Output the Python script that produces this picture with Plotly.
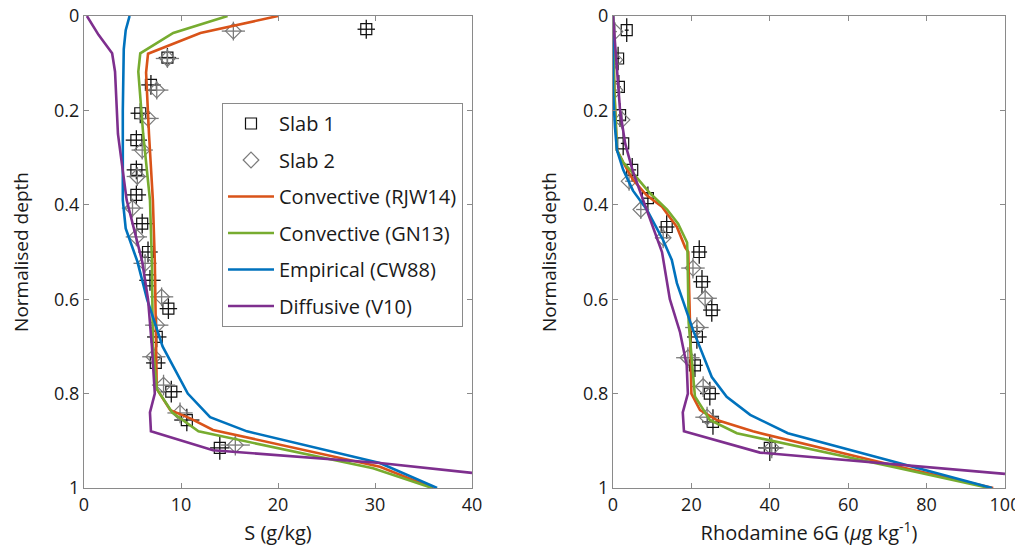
import plotly.graph_objects as go

# ---------------- Left panel: salinity S (g/kg) ----------------
s_rjw_x = [20, 12, 6.6, 6.4, 6.7, 7.1, 7.3, 7.4, 7.5, 8.9, 10.9, 13.3, 30.5, 36]
s_rjw_y = [0, 0.036, 0.08, 0.12, 0.25, 0.39, 0.52, 0.7, 0.79, 0.835, 0.852, 0.877, 0.955, 1.0]
s_gn_x = [14.8, 9.2, 5.8, 5.6, 6.1, 6.8, 7.0, 7.1, 7.5, 9.1, 11.8, 29.8, 35.9]
s_gn_y = [0, 0.036, 0.079, 0.118, 0.25, 0.39, 0.52, 0.7, 0.79, 0.84, 0.88, 0.958, 1.0]
s_cw_x = [4.7, 4.3, 4.1, 4.0, 4.0, 4.3, 5.5, 6.5, 8.1, 9.4, 10.7, 13.0, 16.8, 30.5, 36.4]
s_cw_y = [0, 0.03, 0.07, 0.2, 0.39, 0.45, 0.52, 0.6, 0.7, 0.75, 0.8, 0.85, 0.88, 0.947, 1.0]
s_v_x = [0.3, 1.5, 2.9, 3.2, 3.5, 4.4, 6.0, 6.6, 7.0, 7.3, 6.8, 6.9, 13.3, 30.5, 40]
s_v_y = [0, 0.04, 0.079, 0.118, 0.25, 0.39, 0.52, 0.6, 0.7, 0.8, 0.84, 0.88, 0.92, 0.947, 0.968]

s_slab1_x = [29.1, 8.6, 6.9, 5.8, 5.4, 5.4, 5.4, 6.0, 6.6, 6.8, 8.7, 7.5, 7.4, 9.0, 10.6, 14.0]
s_slab1_y = [0.028, 0.088, 0.146, 0.206, 0.263, 0.326, 0.379, 0.44, 0.50, 0.56, 0.62, 0.68, 0.735, 0.796, 0.856, 0.915]
s_slab1_ex = [0.9, 0.9, 1.0, 1.0, 1.1, 1.0, 1.0, 1.1, 1.0, 1.1, 0.9, 1.0, 1.0, 1.1, 1.3, 1.0]
s_slab1_ey = [0.02, 0.02, 0.021, 0.021, 0.021, 0.02, 0.02, 0.021, 0.022, 0.022, 0.022, 0.022, 0.022, 0.023, 0.024, 0.025]

s_slab2_x = [15.4, 8.6, 7.5, 6.6, 6.0, 5.5, 5.0, 5.4, 6.3, 8.0, 7.5, 7.2, 8.2, 9.9, 15.6]
s_slab2_y = [0.032, 0.09, 0.157, 0.217, 0.284, 0.34, 0.407, 0.468, 0.524, 0.595, 0.655, 0.722, 0.782, 0.841, 0.909]
s_slab2_ex = [1.2, 1.2, 1.2, 1.1, 1.1, 1.1, 1.1, 1.1, 1.2, 1.2, 1.2, 1.2, 1.2, 1.3, 1.5]
s_slab2_ey = [0.02, 0.02, 0.02, 0.02, 0.02, 0.02, 0.02, 0.02, 0.02, 0.02, 0.02, 0.02, 0.022, 0.022, 0.022]

# ---------------- Right panel: Rhodamine 6G ----------------
r_rjw_x = [0, 0.3, 1.0, 2.6, 5.1, 8.6, 12.5, 16.3, 18.4, 19.2, 19.6, 20.0, 22.2, 26.5, 35.7, 73, 97]
r_rjw_y = [0, 0.15, 0.284, 0.31, 0.347, 0.38, 0.404, 0.447, 0.49, 0.5, 0.637, 0.8, 0.835, 0.856, 0.88, 0.955, 1.0]
r_gn_x = [0, 0.3, 1.0, 2.6, 5.1, 9.4, 13.8, 16.6, 18.9, 19.0, 19.3, 20.9, 24.7, 31.6, 73, 96]
r_gn_y = [0, 0.15, 0.284, 0.31, 0.333, 0.375, 0.41, 0.44, 0.48, 0.5, 0.65, 0.806, 0.856, 0.884, 0.958, 1.0]
r_cw_x = [0, 0.0, 0.5, 1.0, 2.6, 5.1, 8.6, 12.8, 15.0, 16.3, 20.4, 25.2, 29.0, 35.0, 44.6, 73, 96.7]
r_cw_y = [0, 0.157, 0.235, 0.284, 0.326, 0.37, 0.41, 0.475, 0.517, 0.566, 0.665, 0.765, 0.807, 0.845, 0.884, 0.947, 1.0]
r_v_x = [0, 1.0, 1.8, 3.1, 5.1, 7.7, 10.2, 12.5, 14.5, 17.1, 18.8, 19.1, 17.8, 18.1, 37.5, 73, 100]
r_v_y = [0, 0.107, 0.2, 0.27, 0.33, 0.39, 0.447, 0.5, 0.6, 0.67, 0.74, 0.8, 0.84, 0.88, 0.925, 0.95, 0.97]

r_slab1_x = [3.5, 1.3, 1.5, 1.8, 2.6, 4.9, 8.9, 13.7, 22.0, 22.7, 25.2, 21.4, 20.9, 24.7, 25.5, 40.0]
r_slab1_y = [0.03, 0.09, 0.15, 0.21, 0.27, 0.326, 0.386, 0.447, 0.50, 0.563, 0.623, 0.68, 0.74, 0.80, 0.86, 0.915]
r_slab1_ex = [0.5, 0.4, 0.5, 0.5, 0.6, 1.0, 1.5, 2.0, 2.0, 2.2, 2.2, 2.5, 2.0, 2.5, 2.8, 3.0]
r_slab1_ey = [0.025, 0.025, 0.025, 0.025, 0.025, 0.025, 0.025, 0.025, 0.025, 0.025, 0.025, 0.025, 0.025, 0.025, 0.027, 0.028]

r_slab2_x = [0.5, 0.5, 0.5, 2.3, 4.1, 7.1, 12.8, 20.4, 23.5, 21.4, 19.1, 23.0, 24.0, 40.5]
r_slab2_y = [0.033, 0.093, 0.157, 0.22, 0.35, 0.41, 0.47, 0.534, 0.598, 0.66, 0.724, 0.785, 0.85, 0.915]
r_slab2_ex = [0.5, 0.5, 0.5, 0.8, 1.0, 1.2, 2.0, 3.0, 3.0, 3.0, 3.0, 3.0, 3.0, 3.0]
r_slab2_ey = [0.02, 0.02, 0.02, 0.02, 0.02, 0.02, 0.022, 0.022, 0.022, 0.022, 0.022, 0.022, 0.022, 0.022]

series_names = ["Slab 1", "Slab 2", "Convective (RJW14)", "Convective (GN13)",
                "Empirical (CW88)", "Diffusive (V10)"]
line_colors = ["#D95319", "#77AC30", "#0072BD", "#7E2F8E"]

x_ticks_left = [0, 10, 20, 30, 40]
x_ticks_right = [0, 20, 40, 60, 80, 100]
y_ticks = [0, 0.2, 0.4, 0.6, 0.8, 1]
y_tick_text = ["0", "0.2", "0.4", "0.6", "0.8", "1"]

FONT = "Open Sans"
TXT = "#1a1a1a"
fig = go.Figure()

def add_panel(xa, ya, slab1, slab2, lines, show):
    sx, sy, sex, sey = slab1
    fig.add_trace(go.Scatter(
        x=sx, y=sy, mode="markers", name=series_names[0], legendgroup="g0",
        showlegend=show, xaxis=xa, yaxis=ya,
        marker=dict(symbol="square-open", size=11, color="#111111", line=dict(width=1.2)),
        error_x=dict(type="data", array=sex, color="#111111", thickness=1.3, width=0),
        error_y=dict(type="data", array=sey, color="#111111", thickness=1.3, width=0),
    ))
    dx, dy, dex, dey = slab2
    fig.add_trace(go.Scatter(
        x=dx, y=dy, mode="markers", name=series_names[1], legendgroup="g1",
        showlegend=show, xaxis=xa, yaxis=ya,
        marker=dict(symbol="diamond-open", size=12, color="#7a7a7a", line=dict(width=1.2)),
        error_x=dict(type="data", array=dex, color="#7a7a7a", thickness=1.3, width=0),
        error_y=dict(type="data", array=dey, color="#7a7a7a", thickness=1.3, width=0),
    ))
    for i, (lx, ly) in enumerate(lines):
        fig.add_trace(go.Scatter(
            x=lx, y=ly, mode="lines", name=series_names[2 + i], legendgroup=f"g{2+i}",
            showlegend=show, xaxis=xa, yaxis=ya,
            line=dict(color=line_colors[i], width=2.6),
        ))

add_panel("x", "y",
          (s_slab1_x, s_slab1_y, s_slab1_ex, s_slab1_ey),
          (s_slab2_x, s_slab2_y, s_slab2_ex, s_slab2_ey),
          [(s_rjw_x, s_rjw_y), (s_gn_x, s_gn_y), (s_cw_x, s_cw_y), (s_v_x, s_v_y)], True)
add_panel("x2", "y2",
          (r_slab1_x, r_slab1_y, r_slab1_ex, r_slab1_ey),
          (r_slab2_x, r_slab2_y, r_slab2_ex, r_slab2_ey),
          [(r_rjw_x, r_rjw_y), (r_gn_x, r_gn_y), (r_cw_x, r_cw_y), (r_v_x, r_v_y)], False)

# page body has an 8px margin: figure drawn at (8,8) in the window
OFF = 8
W, H = 1023 - OFF, 554 - 2 * OFF
def px_x(p):
    return (p - OFF) / W
def px_y(p):
    return 1 - (p - OFF) / H

axcol = "#8a8a8a"
common_x = dict(showgrid=False, zeroline=False, showline=True, linecolor=axcol, linewidth=1,
                mirror="allticks", ticks="inside", ticklen=5, tickcolor=axcol,
                tickfont=dict(family=FONT, size=18, color=TXT), automargin=False,
                ticklabeloverflow="allow",
                title=dict(font=dict(family=FONT, size=20, color=TXT), standoff=27))
common_y = dict(showgrid=False, zeroline=False, showline=True, linecolor=axcol, linewidth=1,
                mirror="allticks", ticks="inside", ticklen=5, tickcolor=axcol,
                tickfont=dict(family=FONT, size=18, color=TXT), automargin=False,
                ticklabeloverflow="allow",
                range=[1, 0], tickvals=y_ticks, ticktext=y_tick_text,
                title=dict(text="Normalised depth", font=dict(family=FONT, size=19, color=TXT), standoff=21))

fig.update_layout(
    width=W, height=H, margin=dict(l=0, r=0, t=0, b=0),
    paper_bgcolor="white", plot_bgcolor="white",
    font=dict(family=FONT, color=TXT),
    xaxis=dict(common_x, domain=[px_x(84), px_x(472)], range=[0, 40], tickvals=x_ticks_left,
               title=dict(common_x["title"], text="S (g/kg)")),
    xaxis2=dict(common_x, domain=[px_x(613), px_x(1005)], range=[0, 100], tickvals=x_ticks_right,
                anchor="y2",
                title=dict(common_x["title"], text="Rhodamine 6G (<i>μ</i>g kg<sup>-1</sup>)")),
    yaxis=dict(common_y, domain=[px_y(488), px_y(16)], anchor="x"),
    yaxis2=dict(common_y, domain=[px_y(488), px_y(16)], anchor="x2"),
    legend=dict(x=px_x(222), y=px_y(103), xanchor="left", yanchor="top",
                bordercolor=axcol, borderwidth=1, bgcolor="white",
                font=dict(family=FONT, size=20, color=TXT),
                tracegroupgap=7.5, itemwidth=46),
    showlegend=True,
)

fig.write_html("out.html")
